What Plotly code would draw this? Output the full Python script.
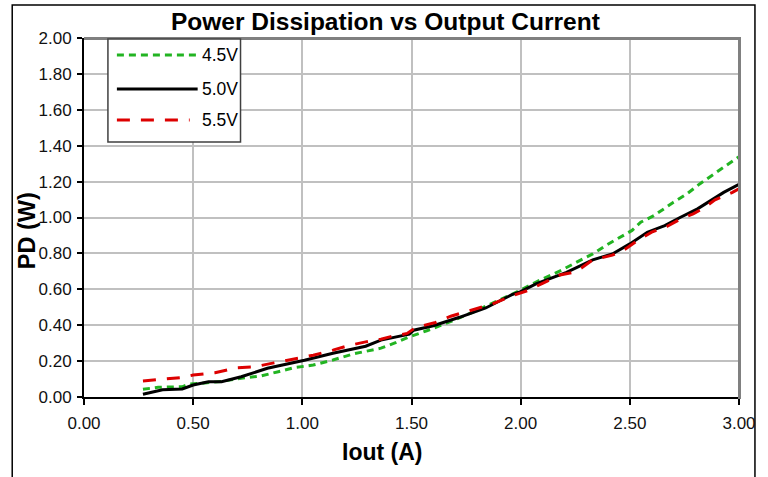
import plotly.graph_objects as go

# ---------------- data ----------------
x_45 = [0.27, 0.34, 0.45, 0.48, 0.54, 0.63, 0.72, 0.81, 0.89, 0.96, 1.05, 1.14, 1.23, 1.36,
        1.43, 1.49, 1.57, 1.69, 1.78, 1.87, 1.96, 2.09, 2.19, 2.27, 2.33, 2.39, 2.51, 2.55,
        2.61, 2.70, 2.76, 2.82, 2.88, 2.93, 3.00]
y_45 = [0.043, 0.054, 0.057, 0.072, 0.076, 0.087, 0.105, 0.117, 0.141, 0.163, 0.178, 0.206,
        0.239, 0.272, 0.304, 0.335, 0.369, 0.425, 0.472, 0.522, 0.572, 0.652, 0.708, 0.760,
        0.797, 0.844, 0.928, 0.974, 1.010, 1.085, 1.130, 1.187, 1.239, 1.283, 1.339]

x_50 = [0.27, 0.36, 0.45, 0.50, 0.57, 0.63, 0.72, 0.84, 1.01, 1.14, 1.29, 1.36, 1.49, 1.51,
        1.60, 1.72, 1.84, 1.96, 2.00, 2.07, 2.21, 2.33, 2.42, 2.50, 2.58, 2.66, 2.73, 2.81,
        2.93, 3.00]
y_50 = [0.015, 0.040, 0.045, 0.067, 0.085, 0.085, 0.113, 0.160, 0.205, 0.244, 0.283, 0.317,
        0.350, 0.372, 0.397, 0.444, 0.496, 0.570, 0.587, 0.630, 0.694, 0.764, 0.797, 0.853,
        0.918, 0.955, 1.000, 1.048, 1.140, 1.185]

x_55 = [0.27, 0.36, 0.45, 0.50, 0.60, 0.70, 0.78, 0.87, 0.96, 1.05, 1.14, 1.22, 1.29, 1.36,
        1.40, 1.48, 1.52, 1.61, 1.68, 1.74, 1.80, 1.87, 1.96, 2.03, 2.10, 2.18, 2.24, 2.28,
        2.33, 2.42, 2.48, 2.54, 2.60, 2.67, 2.73, 2.79, 2.84, 2.89, 2.97, 3.00]
y_55 = [0.089, 0.100, 0.109, 0.122, 0.135, 0.163, 0.168, 0.190, 0.211, 0.233, 0.261, 0.289,
        0.307, 0.322, 0.335, 0.354, 0.388, 0.415, 0.450, 0.472, 0.496, 0.518, 0.564, 0.592,
        0.633, 0.680, 0.694, 0.720, 0.764, 0.790, 0.825, 0.876, 0.918, 0.950, 0.990, 1.020,
        1.054, 1.098, 1.140, 1.160]

series_names = ["4.5V", "5.0V", "5.5V"]
series_colors = ["#22B422", "#000000", "#DD0000"]
series_dash = ["7px,5px", "solid", "13px,11px"]

title_text = "Power Dissipation vs Output Current"
x_title = "Iout (A)"
y_title = "PD (W)"

# ---------------- layout geometry (pixels) ----------------
W, H = 768, 477
L, R, T, B = 84, 27, 38, 80
PW, PH = W - L - R, H - T - B


def px(xp):
    return (xp - L) / PW


def py(yp):
    return (H - B - yp) / PH


FONT = "Liberation Sans, Arial, sans-serif"

fig = go.Figure()
xs = [x_45, x_50, x_55]
ys = [y_45, y_50, y_55]
for name, xv, yv, col, dsh in zip(series_names, xs, ys, series_colors, series_dash):
    fig.add_trace(go.Scatter(x=xv, y=yv, mode="lines", name=name,
                             line=dict(color=col, width=3, dash=dsh),
                             showlegend=False))

shapes = []
# outer chart border
shapes.append(dict(type="rect", xref="paper", yref="paper",
                   x0=px(12), x1=px(757), y0=py(490), y1=py(5),
                   line=dict(color="#000000", width=1.5), layer="below"))
# gray frame on top & right
shapes.append(dict(type="line", xref="paper", yref="paper", x0=0, x1=px(742), y0=py(38.5), y1=py(38.5),
                   line=dict(color="#808080", width=3)))
shapes.append(dict(type="line", xref="paper", yref="paper", x0=px(741.5), x1=px(741.5), y0=py(399), y1=py(37),
                   line=dict(color="#808080", width=3)))

# legend box
shapes.append(dict(type="rect", xref="paper", yref="paper",
                   x0=px(108), x1=px(241), y0=py(142), y1=py(39),
                   fillcolor="white", line=dict(color="#404040", width=1.5)))
annotations = []
leg_y = [55, 89, 120]
leg_x1 = [198, 198, 190]
for name, col, dsh, ly, lx1 in zip(series_names, series_colors, series_dash, leg_y, leg_x1):
    shapes.append(dict(type="line", xref="paper", yref="paper",
                       x0=px(117), x1=px(lx1), y0=py(ly), y1=py(ly),
                       line=dict(color=col, width=3, dash=dsh)))
    annotations.append(dict(text=name, xref="paper", yref="paper", x=px(200), y=py(ly),
                            xanchor="left", yanchor="middle", showarrow=False,
                            font=dict(family=FONT, size=17.5, color="#000000")))

annotations.append(dict(text="<b>" + title_text + "</b>", xref="paper", yref="paper",
                        x=px(386), y=py(21), xanchor="center", yanchor="middle", showarrow=False,
                        font=dict(family=FONT, size=24.5, color="#000000")))
annotations.append(dict(text="<b>" + x_title + "</b>", xref="paper", yref="paper",
                        x=px(383), y=py(452), xanchor="center", yanchor="middle", showarrow=False,
                        font=dict(family=FONT, size=23, color="#000000")))
annotations.append(dict(text="<b>" + y_title + "</b>", xref="paper", yref="paper",
                        x=px(27), y=py(231), xanchor="center", yanchor="middle", showarrow=False,
                        textangle=-90,
                        font=dict(family=FONT, size=23.5, color="#000000")))

fig.update_layout(
    width=W, height=H,
    margin=dict(l=L, r=R, t=T, b=B),
    paper_bgcolor="white", plot_bgcolor="white",
    font=dict(family=FONT, size=17, color="#000000"),
    shapes=shapes, annotations=annotations,
    showlegend=False,
)
fig.update_xaxes(range=[0, 3], tick0=0, dtick=0.5, tickformat=".2f",
                 showgrid=True, gridcolor="#C0C0C0", gridwidth=1.5,
                 showline=True, linecolor="#000000", linewidth=2,
                 ticks="outside", ticklen=6, tickcolor="#000000", tickwidth=1.5,
                 ticklabelstandoff=4,
                 zeroline=False, fixedrange=True,
                 tickfont=dict(family=FONT, size=17, color="#111111"))
fig.update_yaxes(range=[0, 2], tick0=0, dtick=0.2, tickformat=".2f",
                 showgrid=True, gridcolor="#C0C0C0", gridwidth=1.5,
                 showline=True, linecolor="#000000", linewidth=2,
                 ticks="outside", ticklen=5, tickcolor="#000000", tickwidth=1.5,
                 ticklabelstandoff=2,
                 zeroline=False, fixedrange=True,
                 tickfont=dict(family=FONT, size=17, color="#111111"))

fig.write_html("out.html", config={"displayModeBar": False})
